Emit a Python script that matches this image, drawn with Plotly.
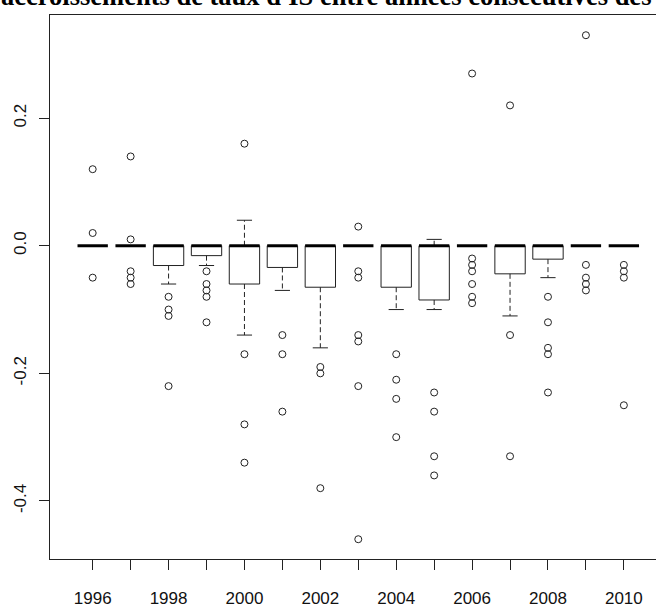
import plotly.graph_objects as go

# ---- data ----
years = [1996, 1997, 1998, 1999, 2000, 2001, 2002, 2003, 2004, 2005, 2006, 2007, 2008, 2009, 2010]
medians = [0, 0, 0, 0, 0, 0, 0, 0, 0, 0, 0, 0, 0, 0, 0]
q1 = [0, 0, -0.031, -0.0155, -0.06, -0.034, -0.065, 0, -0.065, -0.085, 0, -0.044, -0.021, 0, 0]
q3 = [0, 0, 0, 0, 0, 0, 0, 0, 0, 0, 0, 0, 0, 0, 0]
whisker_low = [0, 0, -0.06, -0.031, -0.14, -0.07, -0.16, 0, -0.10, -0.10, 0, -0.11, -0.05, 0, 0]
whisker_high = [0, 0, 0, 0, 0.04, 0, 0, 0, 0, 0.01, 0, 0, 0, 0, 0]
outliers = [
    [0.12, 0.02, -0.05],                                  # 1996
    [0.14, 0.01, -0.04, -0.05, -0.06],                    # 1997
    [-0.08, -0.10, -0.11, -0.22],                         # 1998
    [-0.04, -0.06, -0.07, -0.08, -0.12],                  # 1999
    [0.16, -0.17, -0.28, -0.34],                          # 2000
    [-0.14, -0.17, -0.26],                                # 2001
    [-0.19, -0.20, -0.38],                                # 2002
    [0.03, -0.04, -0.05, -0.14, -0.15, -0.22, -0.46],     # 2003
    [-0.17, -0.21, -0.24, -0.30],                         # 2004
    [-0.23, -0.26, -0.33, -0.36],                         # 2005
    [0.27, -0.02, -0.03, -0.04, -0.06, -0.08, -0.09],     # 2006
    [0.22, -0.14, -0.33],                                 # 2007
    [-0.08, -0.12, -0.16, -0.17, -0.23],                  # 2008
    [0.33, -0.03, -0.05, -0.06, -0.07],                   # 2009
    [-0.03, -0.04, -0.05, -0.25],                         # 2010
]
x_labels = ["1996", "", "1998", "", "2000", "", "2002", "", "2004", "", "2006", "", "2008", "", "2010"]
y_ticks = [-0.4, -0.2, 0.0, 0.2]
y_labels = ["-0.4", "-0.2", "0.0", "0.2"]
title_text = "accroissements de taux d'IS entre années consécutives des"

# ---- build boxplot geometry (R style) ----
HW = 0.4    # half box width
SW = 0.2    # half staple width
box_x, box_y = [], []
med_x, med_y = [], []
wh_x, wh_y = [], []
st_x, st_y = [], []
for i, yr in enumerate(years):
    l, r = yr - HW, yr + HW
    if q1[i] != q3[i]:
        box_x += [l, r, r, l, l, None]
        box_y += [q3[i], q3[i], q1[i], q1[i], q3[i], None]
    med_x += [l, r, None]
    med_y += [medians[i], medians[i], None]
    if whisker_low[i] < q1[i]:
        wh_x += [yr, yr, None]
        wh_y += [q1[i], whisker_low[i], None]
        st_x += [yr - SW, yr + SW, None]
        st_y += [whisker_low[i], whisker_low[i], None]
    if whisker_high[i] > q3[i]:
        wh_x += [yr, yr, None]
        wh_y += [q3[i], whisker_high[i], None]
        st_x += [yr - SW, yr + SW, None]
        st_y += [whisker_high[i], whisker_high[i], None]

out_x, out_y = [], []
for yr, vals in zip(years, outliers):
    out_x += [yr] * len(vals)
    out_y += vals

LC = "#222222"
fig = go.Figure()
fig.add_trace(go.Scatter(x=wh_x, y=wh_y, mode="lines",
                         line=dict(color=LC, width=1, dash="5px,3px"), hoverinfo="skip"))
fig.add_trace(go.Scatter(x=st_x, y=st_y, mode="lines",
                         line=dict(color=LC, width=1), hoverinfo="skip"))
fig.add_trace(go.Scatter(x=box_x, y=box_y, mode="lines",
                         line=dict(color=LC, width=1), hoverinfo="skip"))
fig.add_trace(go.Scatter(x=med_x, y=med_y, mode="lines",
                         line=dict(color="#000000", width=3), hoverinfo="skip"))
fig.add_trace(go.Scatter(x=out_x, y=out_y, mode="markers",
                         marker=dict(symbol="circle-open", size=7, color=LC,
                                     line=dict(width=1, color=LC))))

PLOT_L, PLOT_T, PLOT_W, PLOT_H = 50, 15, 606, 550
fig.update_layout(
    width=656, height=608,
    margin=dict(l=PLOT_L, r=656 - PLOT_L - PLOT_W, t=PLOT_T, b=608 - PLOT_T - PLOT_H, pad=0),
    paper_bgcolor="white", plot_bgcolor="white",
    showlegend=False,
    font=dict(family="Liberation Sans, Arial, sans-serif", size=17, color="#111111"),
    xaxis=dict(range=[1994.875, 2010.847], tickmode="array", tickvals=years, ticktext=x_labels,
               showgrid=False, zeroline=False, showline=True, linecolor=LC, linewidth=1,
               mirror=True, ticks="outside", ticklen=10, tickwidth=1, tickcolor=LC,
               ticklabelstandoff=14),
    yaxis=dict(range=[-0.491, 0.3617], tickmode="array", tickvals=y_ticks, ticktext=y_labels,
               showgrid=False, zeroline=False, showline=True, linecolor=LC, linewidth=1,
               mirror=False, ticks="outside", ticklen=10, tickwidth=1, tickcolor=LC,
               tickangle=-90, ticklabelstandoff=6),
    annotations=[dict(text="<b>" + title_text + "</b>", xref="paper", yref="paper",
                      x=(-1 - PLOT_L) / PLOT_W, y=1 + (PLOT_T + 4) / PLOT_H,
                      xanchor="left", yanchor="middle", showarrow=False,
                      font=dict(family="Liberation Serif, Times New Roman, serif", size=26.5,
                                color="#000000"))],
)

fig.write_html(
    "out.html",
    config={"displayModeBar": False},
    post_script="document.body.style.margin='0';document.body.style.overflow='hidden';",
)
